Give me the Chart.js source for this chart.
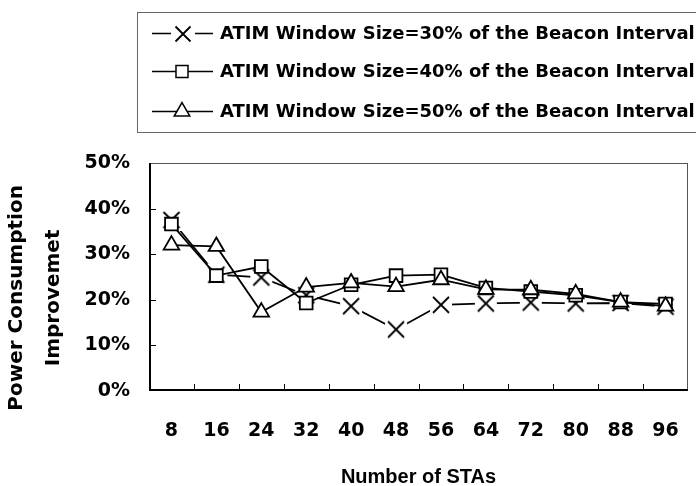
<!DOCTYPE html>
<html lang="en">
<head>
    <meta charset="UTF-8">
    <title>Power Consumption Improvement</title>
    <script src="https://cdn.jsdelivr.net/npm/chart.js"></script>
    <style>
        body { margin: 0; background: #fff; }
        #wrap { width: 696px; height: 486px; }
    </style>
</head>
<body>
    <div id="wrap">
        <canvas id="powerChart" width="696" height="486"></canvas>
    </div>
    <script>
        // values (percent)
        const stas = ['8', '16', '24', '32', '40', '48', '56', '64', '72', '80', '88', '96'];
        const win30 = [37.5, 25.5, 24.9, 21.0, 18.6, 13.5, 18.9, 19.2, 19.4, 19.2, 19.3, 18.5];
        const win40 = [36.6, 25.3, 27.3, 19.3, 23.3, 25.3, 25.5, 22.6, 21.8, 21.0, 19.5, 19.1];
        const win50 = [32.0, 31.7, 17.3, 22.8, 23.7, 22.9, 24.4, 22.3, 22.2, 21.3, 19.5, 18.6];
        const yTicks = [0, 10, 20, 30, 40, 50];
        const seriesNames = [
            'ATIM Window Size=30% of the Beacon Interval',
            'ATIM Window Size=40% of the Beacon Interval',
            'ATIM Window Size=50% of the Beacon Interval'
        ];

        const sansFont = "'Liberation Sans', Arial, sans-serif";
        const wideFont = "'DejaVu Sans', sans-serif";

        // X marker with a small white patch behind it (lines stop short of it)
        function crossMarker(half, pad) {
            const s = Math.ceil((half + pad) * 2) + 2;
            const c = document.createElement('canvas');
            c.width = s; c.height = s;
            const g = c.getContext('2d');
            const m = s / 2;
            g.fillStyle = '#fff';
            g.fillRect(m - half - pad, m - half - pad, (half + pad) * 2, (half + pad) * 2);
            g.strokeStyle = '#000';
            g.lineWidth = 1.8;
            g.beginPath();
            g.moveTo(m - half, m - half); g.lineTo(m + half, m + half);
            g.moveTo(m + half, m - half); g.lineTo(m - half, m + half);
            g.stroke();
            return c;
        }
        const crossPlot = crossMarker(8, 3);
        const crossLegend = crossMarker(7.5, 4.5);

        // frame, inward tick marks and the boxed legend
        const framePlugin = {
            id: 'frame',
            beforeDatasetsDraw(chart) {
                const {ctx, chartArea: a, scales} = chart;
                ctx.save();
                ctx.strokeStyle = '#555';
                ctx.lineWidth = 1;
                ctx.strokeRect(a.left + 0.5, a.top + 0.5, a.right - a.left - 1, a.bottom - a.top - 1);
                ctx.strokeStyle = '#000';
                ctx.lineWidth = 2;
                ctx.beginPath();
                ctx.moveTo(a.left + 1, a.top);
                ctx.lineTo(a.left + 1, a.bottom - 1);
                ctx.lineTo(a.right, a.bottom - 1);
                ctx.stroke();
                ctx.lineWidth = 1;
                ctx.beginPath();
                yTicks.slice(1, -1).forEach(v => {
                    const y = Math.round(scales.y.getPixelForValue(v)) + 0.5;
                    ctx.moveTo(a.left, y);
                    ctx.lineTo(a.left + 7, y);
                });
                for (let i = 1; i < stas.length; i++) {
                    const x = Math.round((scales.x.getPixelForValue(i - 1) + scales.x.getPixelForValue(i)) / 2) + 0.5;
                    ctx.moveTo(x, a.bottom);
                    ctx.lineTo(x, a.bottom - 7);
                }
                ctx.stroke();
                ctx.restore();
            },
            afterDraw(chart) {
                const ctx = chart.ctx;
                ctx.save();
                ctx.strokeStyle = '#666';
                ctx.lineWidth = 1;
                ctx.strokeRect(137.5, 12.5, 580, 120);
                ctx.font = "bold 18px " + wideFont;
                ctx.textBaseline = 'middle';
                const rows = [33, 71, 111];
                const legendRadius = [0, 8.5, 9];
                chart.data.datasets.forEach((ds, i) => {
                    const y = rows[i] + 0.5;
                    ctx.strokeStyle = '#000';
                    ctx.lineWidth = 1.5;
                    ctx.beginPath();
                    ctx.moveTo(152, y);
                    ctx.lineTo(213, y);
                    ctx.stroke();
                    ctx.fillStyle = '#fff';
                    if (i === 0) {
                        ctx.drawImage(crossLegend, Math.round(183 - crossLegend.width / 2), Math.round(y - crossLegend.height / 2));
                    } else {
                        Chart.helpers.drawPoint(ctx, {
                            pointStyle: ds.pointStyle,
                            radius: legendRadius[i],
                            borderWidth: 1.5
                        }, 182, y);
                    }
                    ctx.fillStyle = '#000';
                    ctx.fillText(seriesNames[i], 220, rows[i] + 1);
                });
                ctx.restore();
            }
        };

        function makeSet(i, data, style, radius, order) {
            return {
                label: seriesNames[i],
                data: data,
                borderColor: '#000',
                borderWidth: 1.8,
                backgroundColor: '#fff',
                pointStyle: style,
                pointRadius: radius,
                pointBorderWidth: 1.8,
                pointBackgroundColor: '#fff',
                pointBorderColor: '#000',
                tension: 0,
                order: order
            };
        }

        new Chart(document.getElementById('powerChart'), {
            type: 'line',
            data: {
                labels: stas,
                datasets: [
                    makeSet(0, win30, crossPlot, 10, 2),
                    makeSet(1, win40, 'rect', 9, 1),
                    makeSet(2, win50, 'triangle', 9, 0)
                ]
            },
            options: {
                responsive: false,
                animation: false,
                layout: {
                    autoPadding: false,
                    padding: { left: 0, top: 163, right: 8, bottom: 0 }
                },
                plugins: {
                    legend: { display: false },
                    tooltip: { enabled: false }
                },
                scales: {
                    x: {
                        offset: true,
                        // hidden tick length is used as the gap under the axis
                        grid: { display: false, drawTicks: true, tickLength: 29 },
                        border: { display: false },
                        ticks: {
                            color: '#000',
                            padding: 0,
                            maxRotation: 0,
                            font: { family: wideFont, size: 19, weight: 'bold' }
                        },
                        title: {
                            display: true,
                            text: 'Number of STAs',
                            color: '#000',
                            padding: { top: 0, bottom: -3 },
                            font: { family: sansFont, size: 20, weight: 'bold', lineHeight: 1.2 }
                        },
                        afterFit(scale) {
                            scale.height = 95;
                            scale.paddingLeft = 0;
                            scale.paddingRight = 0;
                        }
                    },
                    y: {
                        min: 0,
                        max: 50,
                        grid: { display: false, drawTicks: true, tickLength: 19 },
                        border: { display: false },
                        afterBuildTicks(scale) {
                            scale.ticks = yTicks.map(v => ({ value: v }));
                        },
                        ticks: {
                            color: '#000',
                            padding: 0,
                            font: { family: wideFont, size: 19, weight: 'bold' },
                            callback: v => v + '%'
                        },
                        title: {
                            display: true,
                            // trailing spaces nudge the rotated text down, as in the figure
                            text: ['Power Consumption      ', 'Improvemet      '],
                            color: '#000',
                            padding: { top: -2, bottom: 0 },
                            font: { family: wideFont, size: 20, weight: 'bold', lineHeight: 1.85 }
                        },
                        afterFit(scale) {
                            scale.width = 149;
                            scale.paddingTop = 0;
                            scale.paddingBottom = 0;
                        }
                    }
                }
            },
            plugins: [framePlugin]
        });
    </script>
</body>
</html>
